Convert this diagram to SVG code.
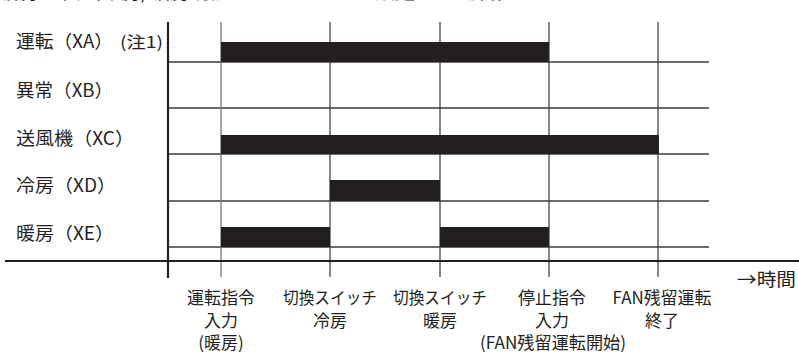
<svg xmlns="http://www.w3.org/2000/svg" width="799" height="354" viewBox="0 0 799 354">
<style>
text{font-family:"Noto Sans CJK JP","Noto Sans",sans-serif;fill:#231f20}
.lbl{font-size:18px}
.small{font-size:16px}
.ev{font-size:17px;text-anchor:middle}
.grid{stroke:#3a3a3a;stroke-width:1.3;fill:none}
.vgrid{stroke:#444;stroke-width:1.3}
.axis{stroke:#231f20;stroke-width:2.2}
.bar{fill:#231f20}
</style>
<rect width="799" height="354" fill="#fff"/>
<text x="-2" y="-1" style="font-size:20px" textLength="520" lengthAdjust="spacingAndGlyphs">暖房運転（冷房/暖房切換をスイッチにて設定した場合）</text>
<g id="connectors">
<line class="grid" x1="168" y1="62" x2="709" y2="62"/>
<line class="grid" x1="168" y1="108" x2="709" y2="108"/>
<line class="grid" x1="168" y1="154" x2="709" y2="154"/>
<line class="grid" x1="168" y1="201" x2="709" y2="201"/>
<line class="grid" x1="168" y1="247" x2="709" y2="247"/>
<line class="vgrid" x1="221" y1="22" x2="221" y2="277" style="stroke:#777"/>
<line class="vgrid" x1="330" y1="22" x2="330" y2="277"/>
<line class="vgrid" x1="440" y1="22" x2="440" y2="277"/>
<line class="vgrid" x1="549" y1="22" x2="549" y2="277"/>
<line class="vgrid" x1="658" y1="22" x2="658" y2="277"/>
<line class="axis" x1="168" y1="22" x2="168" y2="278"/>
<line class="axis" x1="5" y1="261" x2="799" y2="261"/>
</g>
<g id="row-xa">
<text class="lbl" x="16" y="47.5" textLength="97" lengthAdjust="spacingAndGlyphs">運転（XA）</text>
<text class="small" x="120" y="47.5" textLength="43" lengthAdjust="spacingAndGlyphs">(注1)</text>
<rect class="bar" x="221" y="42" width="328" height="20"/>
</g>
<g id="row-xb">
<text class="lbl" x="16" y="96.5" textLength="97" lengthAdjust="spacingAndGlyphs">異常（XB）</text>
</g>
<g id="row-xc">
<text class="lbl" x="16" y="144.5" textLength="118" lengthAdjust="spacingAndGlyphs">送風機（XC）</text>
<rect class="bar" x="221" y="135" width="438" height="19"/>
</g>
<g id="row-xd">
<text class="lbl" x="16" y="191.5" textLength="100" lengthAdjust="spacingAndGlyphs">冷房（XD）</text>
<rect class="bar" x="330" y="180" width="110" height="21"/>
</g>
<g id="row-xe">
<text class="lbl" x="16" y="239.5" textLength="98" lengthAdjust="spacingAndGlyphs">暖房（XE）</text>
<rect class="bar" x="221" y="227" width="109" height="20"/>
<rect class="bar" x="440" y="227" width="109" height="20"/>
</g>
<g id="ev1">
<text class="ev" x="221" y="303.5">運転指令</text>
<text class="ev" x="221" y="326.5">入力</text>
<text class="ev" x="221" y="349">(暖房)</text>
</g>
<g id="ev2">
<text class="ev" x="330" y="303.5" textLength="94" lengthAdjust="spacingAndGlyphs">切換スイッチ</text>
<text class="ev" x="330" y="326.5">冷房</text>
</g>
<g id="ev3">
<text class="ev" x="440" y="303.5" textLength="94" lengthAdjust="spacingAndGlyphs">切換スイッチ</text>
<text class="ev" x="440" y="326.5">暖房</text>
</g>
<g id="ev4">
<text class="ev" x="552" y="303.5">停止指令</text>
<text class="ev" x="552" y="326.5">入力</text>
<text class="ev" x="553" y="349" textLength="146" lengthAdjust="spacingAndGlyphs">(FAN残留運転開始)</text>
</g>
<g id="ev5">
<text class="ev" x="662" y="303.5" textLength="99" lengthAdjust="spacingAndGlyphs">FAN残留運転</text>
<text class="ev" x="662" y="326.5">終了</text>
</g>
<g id="time">
<text x="737" y="286" style="font-size:18px" textLength="59" lengthAdjust="spacingAndGlyphs">→時間</text>
</g>
</svg>
